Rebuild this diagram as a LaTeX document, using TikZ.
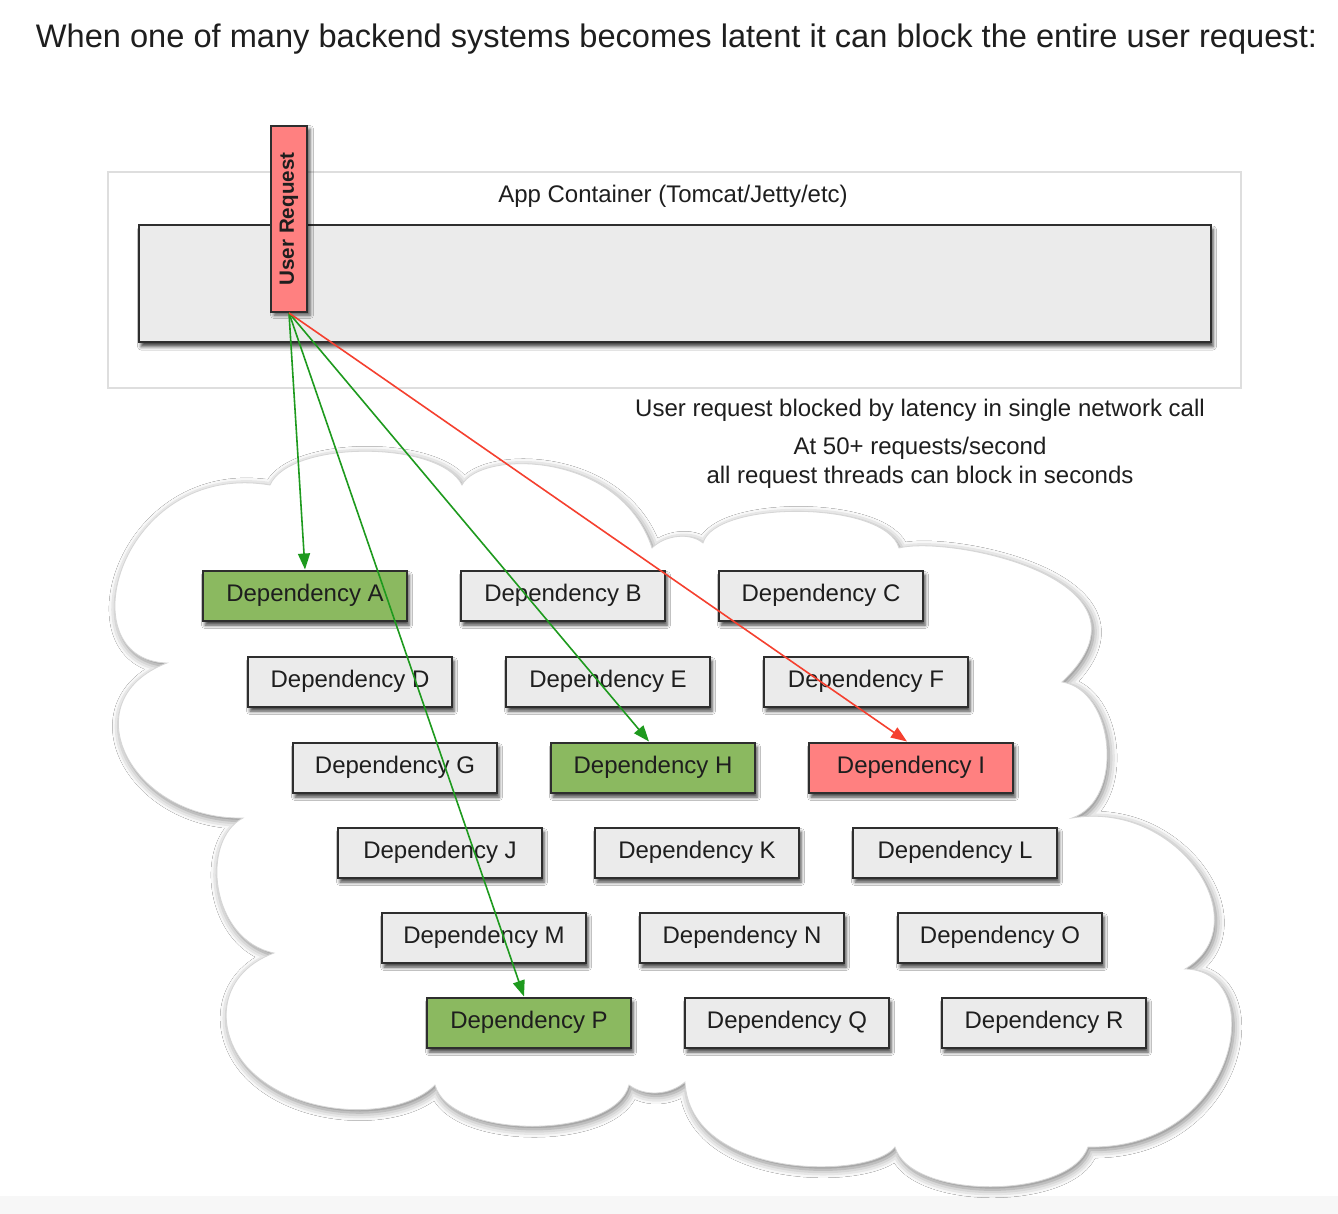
\documentclass[tikz,border=0pt]{standalone}
\usepackage{fontspec}
\setmainfont{Liberation Sans}
\usetikzlibrary{arrows.meta,shadows.blur}
\definecolor{boxgray}{HTML}{EBEBEB}
\definecolor{depgreen}{HTML}{8BB960}
\definecolor{depred}{HTML}{FF8080}
\definecolor{arrgreen}{HTML}{1E9A1E}
\definecolor{arrred}{HTML}{F5402F}
\definecolor{edgec}{HTML}{2E2E2E}
\definecolor{txt}{HTML}{1E1E1E}
\begin{document}
\begin{tikzpicture}[x=1pt,y=-1pt,
  boxshadow/.style={blur shadow={shadow xshift=2pt,shadow yshift=-4.5pt,shadow blur radius=3.5pt,shadow opacity=75}},
  dep/.style={draw=edgec,line width=2pt,fill=boxgray,minimum width=204pt,minimum height=50pt,inner sep=0pt,
    font=\fontsize{24}{28}\selectfont,text=txt,boxshadow},
  good/.style={fill=depgreen},
  bad/.style={fill=depred},
  label/.style={font=\fontsize{24}{28}\selectfont,text=txt,inner sep=0pt},
  garrow/.style={draw=arrgreen,line width=1.6pt,-{Triangle[length=16pt,width=12pt]}},
  rarrow/.style={draw=arrred,line width=1.6pt,-{Triangle[length=16pt,width=12pt]}}]
\useasboundingbox (0,0) rectangle (1338,1214);
\fill[white] (0,0) rectangle (1338,1214);
\fill[black!3] (0,1196) rectangle (1338,1214);

\node[font=\fontsize{32.6}{38}\selectfont,text=txt,anchor=base,inner sep=0pt] (title) at (676.5,48)
  {When one of many backend systems becomes latent it can block the entire user request:};

% app container
\node[draw=black!13,line width=1.5pt,fill=white,minimum width=1133pt,minimum height=216pt,inner sep=0pt] (cont) at (674.5,280) {};
\node[label] (conttext) at (673,196) {App Container (Tomcat/Jetty/etc)};
\node[draw=edgec,line width=2pt,fill=boxgray,minimum width=1072pt,minimum height=117pt,inner sep=0pt,boxshadow] (app) at (675,283.5) {};
\node[draw=edgec,line width=2pt,fill=depred,minimum width=36pt,minimum height=186pt,inner sep=0pt,
  blur shadow={shadow xshift=3pt,shadow yshift=-3pt,shadow blur radius=3.5pt,shadow opacity=65}] (ur) at (289,219) {};
\node[rotate=90,font=\bfseries\fontsize{20.6}{24}\selectfont,text=txt,inner sep=0pt] (urtext) at (ur.center) {User Request};

% notes
\node[label] (note1) at (920,410) {User request blocked by latency in single network call};
\node[label] (note2) at (920,448) {At 50+ requests/second};
\node[label] (note3) at (920,477) {all request threads can block in seconds};

% cloud
\path[draw=black!16,line width=0.8pt,fill=white,
  blur shadow={shadow xshift=2pt,shadow yshift=-3pt,shadow blur radius=8pt,shadow opacity=50}]
 (167,663)
 .. controls (65,660) and (120,460) .. (270,485)
 .. controls (290,440) and (440,440) .. (462,485)
 .. controls (480,450) and (620,450) .. (652,548)
 .. controls (665,535) and (690,532) .. (703,543)
 .. controls (715,500) and (885,500) .. (899,548)
 .. controls (950,535) and (1170,580) .. (1062,682)
 .. controls (1115,690) and (1125,800) .. (1072,818)
 .. controls (1180,800) and (1260,925) .. (1185,969)
 .. controls (1270,970) and (1240,1150) .. (1088,1147)
 .. controls (1070,1200) and (910,1200) .. (895,1147)
 .. controls (870,1180) and (690,1180) .. (685,1082)
 .. controls (670,1095) and (645,1097) .. (629,1085)
 .. controls (615,1140) and (450,1140) .. (435,1085)
 .. controls (400,1120) and (300,1120) .. (250,1070)
 .. controls (215,1035) and (215,975) .. (274,953)
 .. controls (210,940) and (200,840) .. (243,818)
 .. controls (130,820) and (70,700) .. (167,663)
 -- cycle;

% dependencies
\node[dep,good] (A) at (305,595.5) {Dependency A};
\node[dep] (B) at (563,595.5) {Dependency B};
\node[dep] (C) at (821,595.5) {Dependency C};
\node[dep] (D) at (350,681.5) {Dependency D};
\node[dep] (E) at (608,681.5) {Dependency E};
\node[dep] (F) at (866,681.5) {Dependency F};
\node[dep] (G) at (395,767.5) {Dependency G};
\node[dep,good] (H) at (653,767.5) {Dependency H};
\node[dep,bad] (I) at (911,767.5) {Dependency I};
\node[dep] (J) at (440,852.5) {Dependency J};
\node[dep] (K) at (697,852.5) {Dependency K};
\node[dep] (L) at (955,852.5) {Dependency L};
\node[dep] (M) at (484,937.5) {Dependency M};
\node[dep] (N) at (742,937.5) {Dependency N};
\node[dep] (O) at (1000,937.5) {Dependency O};
\node[dep,good] (P) at (529,1022.5) {Dependency P};
\node[dep] (Q) at (787,1022.5) {Dependency Q};
\node[dep] (R) at (1044,1022.5) {Dependency R};

% calls
\draw[garrow] (ur.south) -- (A.north);
\draw[garrow] (ur.south) -- ([xshift=-4pt]H.north);
\draw[garrow] (ur.south) -- ([xshift=-5pt]P.north);
\draw[rarrow] (ur.south) -- ([xshift=-4pt]I.north);
\end{tikzpicture}
\end{document}
